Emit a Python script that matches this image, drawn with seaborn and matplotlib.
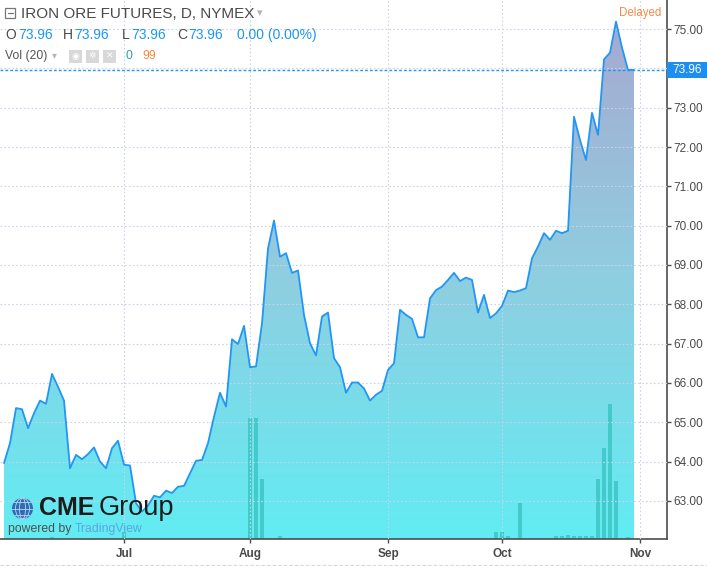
import numpy as np
import pandas as pd
import matplotlib
matplotlib.use("Agg")
import matplotlib.pyplot as plt
import matplotlib.patches as mpatches
import matplotlib.transforms as mtransforms
from matplotlib.colors import LinearSegmentedColormap
from matplotlib.lines import Line2D
from matplotlib.path import Path
import seaborn as sns

# daily closes (Jun 4 - Oct 31, 2018)
close_jun = [63.96, 64.47, 65.36, 65.33, 64.85, 65.23, 65.55, 65.47, 66.23, 65.90,
             65.55, 63.83, 64.17, 64.06, 64.19, 64.36, 64.00, 63.83, 64.34, 64.53]
close_jul = [63.92, 63.90, 62.94, 62.73, 62.88, 63.13, 63.09, 63.26, 63.20, 63.36,
             63.38, 63.70, 64.02, 64.04, 64.47, 65.14, 65.75, 65.40, 67.11, 66.99,
             67.45]
close_aug = [66.40, 66.42, 67.52, 69.42, 70.13, 69.21, 69.30, 68.80, 68.86, 67.73,
             67.01, 66.70, 67.69, 67.79, 66.63, 66.40, 65.75, 66.01, 66.01, 65.86,
             65.55, 65.70, 65.80]
close_sep = [66.33, 66.50, 67.86, 67.73, 67.63, 67.16, 67.16, 68.15, 68.36, 68.45,
             68.62, 68.80, 68.59, 68.68, 68.62, 67.79, 68.24, 67.65, 67.77]
close_oct = [67.96, 68.35, 68.31, 68.35, 68.41, 69.17, 69.47, 69.81, 69.64, 69.87,
             69.81, 69.87, 72.77, 72.18, 71.67, 72.87, 72.31, 74.23, 74.40, 75.19,
             74.53, 73.96, 73.96]

# volume (contracts)
vol_jun = [0, 0, 0, 0, 0, 0, 0, 0, 20, 0, 0, 0, 0, 0, 0, 0, 0, 0, 0, 0]
vol_jul = [70, 0, 0, 0, 0, 0, 0, 0, 0, 0, 0, 0, 0, 0, 0, 0, 0, 0, 0, 0, 0]
vol_aug = [1210, 1210, 600, 0, 0, 30, 0, 0, 0, 0, 0, 0, 0, 0, 0, 0, 0, 0, 0, 0,
           0, 0, 0]
vol_sep = [0, 0, 0, 0, 0, 0, 0, 0, 0, 0, 0, 0, 0, 0, 0, 0, 0, 0, 70]
vol_oct = [70, 30, 0, 360, 0, 0, 0, 0, 0, 30, 30, 40, 30, 30, 30, 30, 600, 910,
           1350, 580, 0, 20, 0]

holidays = ["2018-07-04", "2018-09-03"]
month_labels = ["Jul", "Aug", "Sep", "Oct", "Nov"]
price_ticks = list(range(63, 76))

dates = pd.bdate_range("2018-06-04", "2018-10-31").drop(pd.to_datetime(holidays))
df = pd.DataFrame({
    "date": dates,
    "close": close_jun + close_jul + close_aug + close_sep + close_oct,
    "volume": vol_jun + vol_jul + vol_aug + vol_sep + vol_oct,
})
df["i"] = np.arange(len(df))
month_first = df.groupby(df["date"].dt.to_period("M"))["i"].min()
month_pos = list(month_first.iloc[1:]) + [len(df)]
last = df["close"].iloc[-1]

sns.set_theme(style="white")
plt.rcParams["font.family"] = ["Liberation Sans", "DejaVu Sans"]

W, H = 707, 566
fig = plt.figure(figsize=(W / 100, H / 100), dpi=100)
# pixel transform, origin top-left
pix = mtransforms.Affine2D().scale(1 / 100, -1 / 100).translate(0, H / 100) + fig.dpi_scale_trans

rect = [0, 27 / H, 667 / W, 539 / H]
x_lim = (-0.67, 110.5)
y_lim = (62.03, 75.74)
vol_top = df["volume"].max() * 539 / 135

# lower axes: gradient fill + volume
axv = fig.add_axes(rect)
ax = fig.add_axes(rect)
ax.set_xlim(*x_lim)
ax.set_ylim(*y_lim)
axv.set_xlim(*x_lim)
axv.set_ylim(0, vol_top)

cmap = LinearSegmentedColormap.from_list("tv", ["#62ecf3", "#90cde0", "#a8a6d0"])
grad = np.linspace(0, 1, 256).reshape(-1, 1)
im = axv.imshow(grad, extent=(x_lim[0], x_lim[1], 0, vol_top), origin="lower",
                aspect="auto", cmap=cmap, zorder=0)
xs = df["i"].to_numpy()
verts = np.column_stack([np.r_[xs[0], xs, xs[-1]],
                         np.r_[y_lim[0], df["close"].to_numpy(), y_lim[0]]])
im.set_clip_path(Path(verts), ax.transData)

sns.barplot(data=df, x="i", y="volume", ax=axv, native_scale=True, color="#3cc6c4",
            width=0.82, errorbar=None, saturation=1, linewidth=0, alpha=0.85)
axv.set_xlim(*x_lim)
axv.set_ylim(0, vol_top)
axv.set_axis_off()

# price line
ax.patch.set_visible(False)
sns.lineplot(data=df, x="i", y="close", ax=ax, color="#2196f3", linewidth=1.3, zorder=4)
ax.set_xlim(*x_lim)
ax.set_ylim(*y_lim)
ax.set_xlabel("")
ax.set_ylabel("")

ax.grid(True, color="#cad3e8", linestyle=(0, (1.5, 2)), linewidth=0.8)
ax.set_axisbelow(False)
for s in ["left", "top"]:
    ax.spines[s].set_visible(False)
for s in ["right", "bottom"]:
    ax.spines[s].set_color("#4d4d4d")
    ax.spines[s].set_linewidth(1.2)

ax.yaxis.tick_right()
ax.set_yticks(price_ticks, [("" if v == 74 else f"{v:.2f}") for v in price_ticks])
ax.tick_params(axis="y", left=False, right=True, length=3, width=1, color="#4d4d4d",
               labelsize=8.5, labelcolor="#4a4a4a", pad=1.5)
ax.set_xticks(month_pos, month_labels)
ax.tick_params(axis="x", bottom=True, length=3, width=1, color="#4d4d4d",
               labelsize=8.5, labelcolor="#4a4a4a", pad=3.5)
for lab in ax.get_xticklabels():
    lab.set_fontweight("bold")

# last price line and label
ax.axhline(last, color="#2196f3", linestyle=(0, (2, 1.5)), linewidth=1, zorder=3)
trans = mtransforms.blended_transform_factory(ax.transAxes, ax.transData)
box_h = 16 / 39.3
ax.add_patch(mpatches.Rectangle((1.0, last - box_h / 2), 40 / 667, box_h, transform=trans,
                                facecolor="#1e8ff0", edgecolor="none", clip_on=False, zorder=6))
ax.text(1.0 + 20 / 667, last, f"{last:.2f}", transform=trans, ha="center", va="center",
        color="white", fontsize=8.5, zorder=7, clip_on=False)


def ptxt(x, y, s, **kw):
    fig.text(x, y, s, transform=pix, va="center", **kw)


# header
fig.add_artist(mpatches.Rectangle((5, 18), 10, -10, transform=pix, fill=False,
                                  edgecolor="#777777", linewidth=0.9))
fig.add_artist(Line2D([7.5, 12.5], [13, 13], transform=pix, color="#777777", linewidth=0.9))
ptxt(21, 14, "IRON ORE FUTURES, D, NYMEX", fontsize=11, color="#4a4a4a")
ptxt(257, 13, "▾", fontsize=8, color="#b5b5b5")
ptxt(619, 13, "Delayed", fontsize=8.3, color="#f5894a")

blue = "#1e96f0"
for x, s in [(5, "O"), (63, "H"), (122, "L"), (177, "C")]:
    ptxt(x, 35, s, fontsize=10, color="#4a4a4a")
for x in [18, 74, 131, 188]:
    ptxt(x, 35, f"{last:.2f}", fontsize=10, color=blue)
ptxt(237, 35, "0.00 (0.00%)", fontsize=10, color=blue)

ptxt(5, 56, "Vol (20)", fontsize=8.8, color="#555555")
ptxt(52, 55, "▾", fontsize=7, color="#b5b5b5")
for x, g in [(69, "◉"), (86, "✲"), (103, "✕")]:
    fig.add_artist(mpatches.Rectangle((x, 62.5), 13, -13, transform=pix,
                                      facecolor="#d8d8d8", edgecolor="none"))
    fig.text(x + 6.5, 56, g, transform=pix, ha="center", va="center", fontsize=6.5,
             color="white", family=["DejaVu Sans"])
ptxt(126, 56, "0", fontsize=8.8, color="#26a69a")
ptxt(142, 56, "99", fontsize=8.8, color="#f5893a")

# logo
globe = mpatches.Circle((22.5, 508.5), 10.5, transform=pix, facecolor="#2d6db5",
                        edgecolor="none")
fig.add_artist(globe)
for w in [6, 14]:
    e = mpatches.Ellipse((22.5, 508.5), w, 21, transform=pix, fill=False,
                         edgecolor="#bcd6f2", linewidth=0.6)
    fig.add_artist(e)
for yy in [502, 508.5, 515]:
    ln = Line2D([11, 34], [yy, yy], transform=pix, color="#bcd6f2", linewidth=0.6)
    ln.set_clip_path(globe)
    fig.add_artist(ln)
ptxt(39, 508, "CME", fontsize=18, fontweight="heavy", color="#1c1c1c")
ptxt(99, 508, "Group", fontsize=19.5, color="#1c1c1c")
ptxt(8, 529, "powered by", fontsize=8.8, color="#505050")
ptxt(75, 529, "TradingView", fontsize=8.8, color="#5aa6e0")

fig.add_artist(Line2D([0, W], [565, 565], transform=pix, color="#d8d0dc",
                      linewidth=0.8, linestyle=(0, (3, 2))))

fig.savefig("out.png", dpi=100)
